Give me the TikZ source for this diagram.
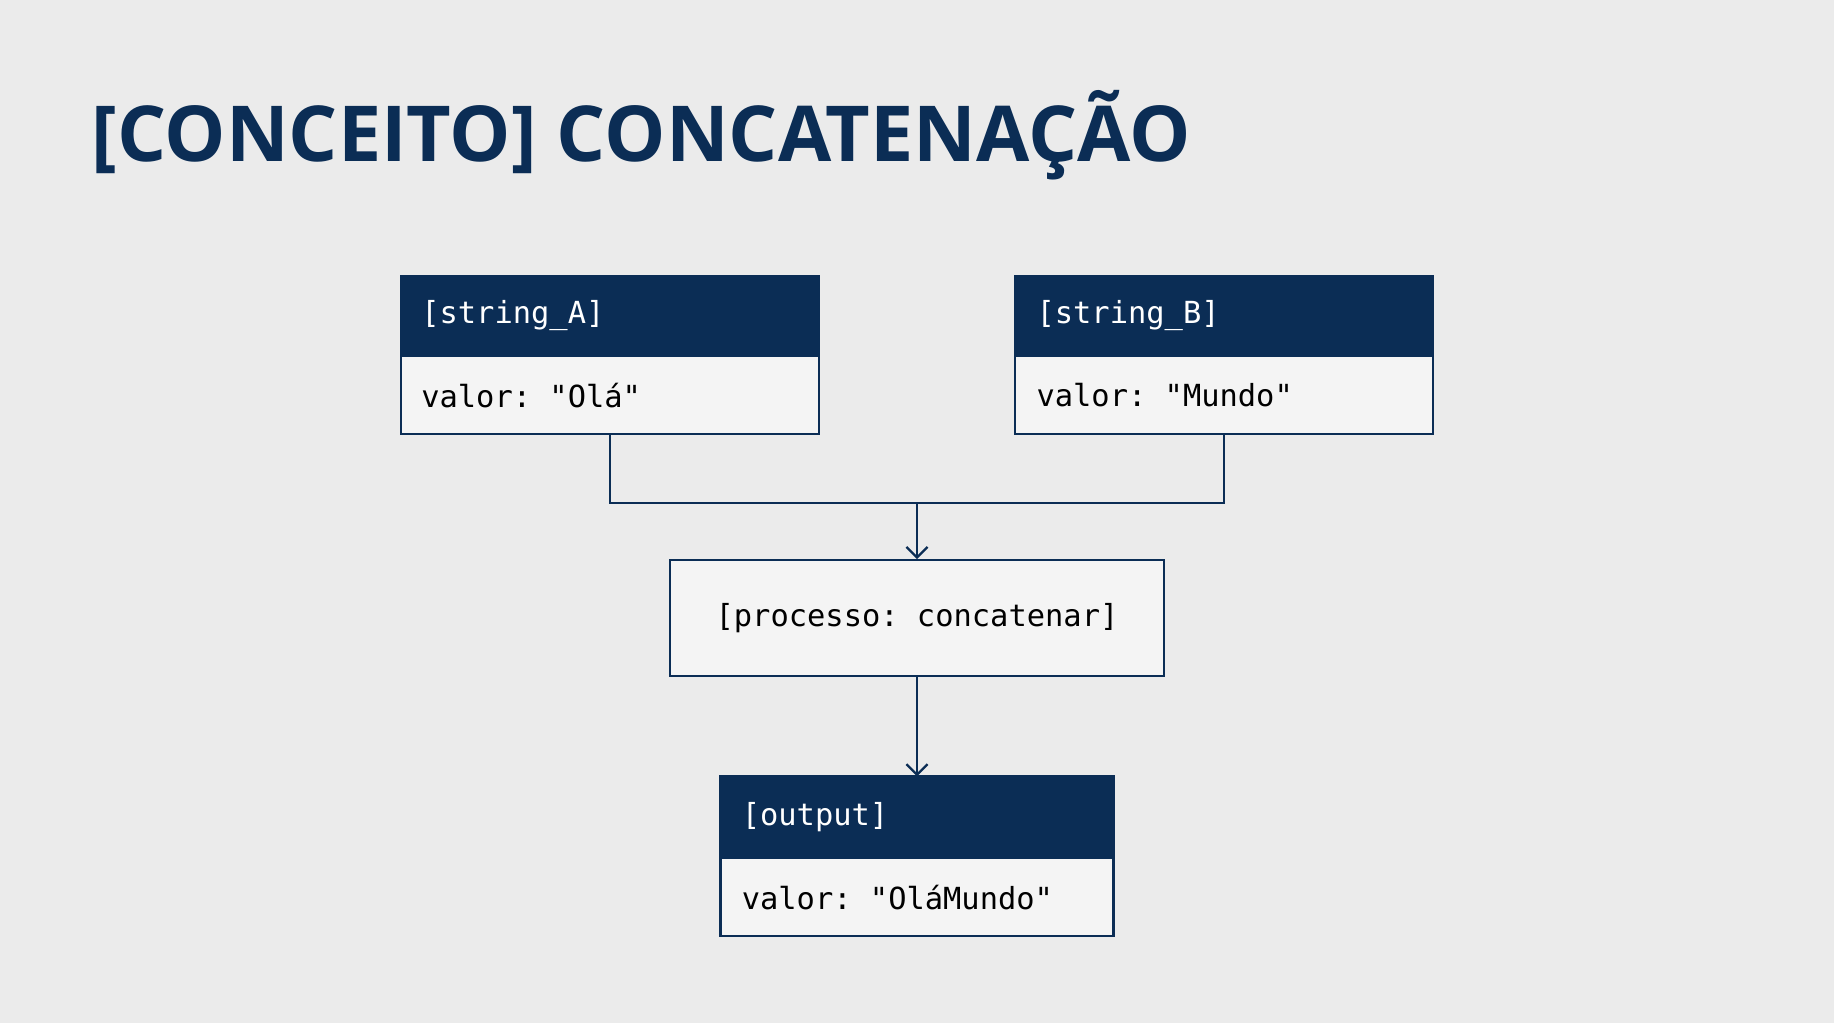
\documentclass[tikz,border=0pt]{standalone}
\usepackage{fontspec}
\setmainfont{Open Sans}
\setmonofont{DejaVu Sans Mono}
\usetikzlibrary{arrows.meta}
\definecolor{navy}{HTML}{0B2D55}
\definecolor{bg}{HTML}{EBEBEB}
\definecolor{bodyfill}{HTML}{F4F4F4}
\begin{document}
\begin{tikzpicture}[x=1pt,y=-1pt,
  hdr/.style={fill=navy,draw=navy,line width=2pt},
  bod/.style={fill=bodyfill,draw=navy,line width=2pt},
  mono/.style={font=\fontsize{26}{30}\selectfont\ttfamily,anchor=west,inner sep=0pt},
  conn/.style={draw=navy,line width=2pt},
  arr/.style={conn,-{Straight Barb[length=9pt,width=18pt,line width=2pt]}}]
\fill[bg] (0,0) rectangle (1568,875);
\useasboundingbox (0,0) rectangle (1568,875);
\node[anchor=base west,inner sep=0pt,text=navy,font=\fontsize{66}{70}\selectfont\bfseries] (title) at (78,138) {[CONCEITO] CONCATENAÇÃO};
% box A
\path[bod] (343,304) rectangle (700,371);
\path[hdr] (343,236) rectangle (700,304);
\node (A) at (521.5,303.5) [minimum width=357pt,minimum height=135pt,inner sep=0pt] {};
\node[mono,text=white] (Ah) at (360,270) {[string\_A]};
\node[mono,text=black] (Ab) at (360,338) {valor: "Olá"};
% box B
\path[bod] (868,304) rectangle (1225,371);
\path[hdr] (868,236) rectangle (1225,304);
\node (B) at (1046.5,303.5) [minimum width=357pt,minimum height=135pt,inner sep=0pt] {};
\node[mono,text=white] (Bh) at (886,270) {[string\_B]};
\node[mono,text=black] (Bb) at (886,338) {valor: "Mundo"};
% process
\node[bod,minimum width=422pt,minimum height=99pt,inner sep=0pt,font=\fontsize{26}{30}\selectfont\ttfamily] (P) at (784,528.5) {[processo: concatenar]};
% output
\path[bod] (616,733) rectangle (952,800);
\path[hdr] (616,664) rectangle (952,733);
\node (O) at (784,732) [minimum width=336pt,minimum height=136pt,inner sep=0pt] {};
\node[mono,text=white] (Oh) at (634,699) {[output]};
\node[mono,text=black] (Ob) at (634,767) {valor: "OláMundo"};
% connectors
\coordinate (J) at (784,430);
\draw[conn] (A.south) |- (J) -| (B.south);
\draw[arr] (J) -- (P.north);
\draw[arr] (P.south) -- (O.north);
\end{tikzpicture}
\end{document}
